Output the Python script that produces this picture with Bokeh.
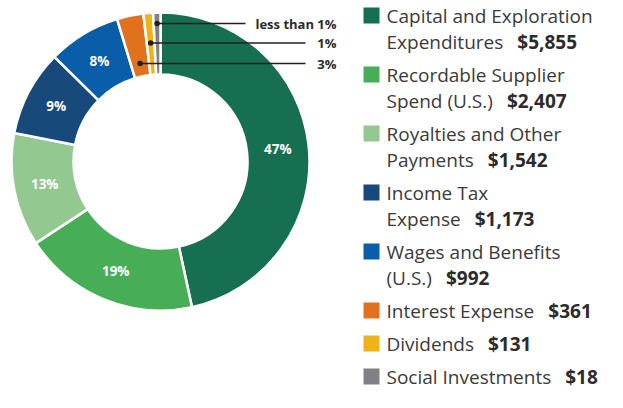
import math
import subprocess
from bokeh.plotting import figure
from bokeh.models import Range1d, ColumnDataSource
from bokeh.core.properties import value
from bokeh.embed import file_html
from bokeh.resources import INLINE

# ---------------- data ----------------
categories = ["Capital and Exploration Expenditures", "Recordable Supplier Spend (U.S.)",
              "Royalties and Other Payments", "Income Tax Expense",
              "Wages and Benefits (U.S.)", "Interest Expense", "Dividends",
              "Social Investments"]
values = [5855, 2407, 1542, 1173, 992, 361, 131, 18]
pct_labels = ["47%", "19%", "13%", "9%", "8%", "3%", "1%", "less than 1%"]
legend_line1 = ["Capital and Exploration", "Recordable Supplier", "Royalties and Other",
                "Income Tax", "Wages and Benefits", "Interest Expense", "Dividends",
                "Social Investments"]
legend_line2 = ["Expenditures", "Spend (U.S.)", "Payments", "Expense", "(U.S.)", "", "", ""]
colors = ["#176F52", "#47AE57", "#93C890", "#17497B", "#0A5DA9", "#E2711E", "#F0B317", "#818185"]

# ---------------- layout ----------------
W, H = 607, 392
FONT = "Open Sans"
CX, CY = 160, 161           # donut centre (canvas px, y downwards)
R_IN, R_OUT = 87, 149
MIN_FRAC = 0.008            # minimum visible share for tiny slices
callout_r = [100, 119, 138]   # orange, yellow, gray
callout_end = [305, 305, 245]
callout_text_x = 336
LEG_SQ_X, LEG_TX = 371, 386
LEG_Y0, LINE_H, ITEM_GAP = 15, 26, 7
LEG_FS, VAL_GAP = 19, 14

def fy(y):
    return H - y

_CW = {' ': .26, 'a': .556, 'b': .613, 'c': .476, 'd': .613, 'e': .561, 'f': .339, 'g': .548,
       'h': .614, 'i': .253, 'l': .253, 'm': .930, 'n': .614, 'o': .604, 'p': .613, 'r': .408,
       's': .477, 't': .353, 'u': .614, 'v': .500, 'x': .503, 'y': .501, 'C': .633, 'D': .729,
       'E': .569, 'I': .303, 'P': .603, 'R': .615, 'S': .539, 'T': .556, 'W': .924, '(': .296,
       ')': .296, '.': .266}

def _font_path(bold):
    try:
        r = subprocess.run(["fc-match", "-f", "%{file}", FONT + (":bold" if bold else ":regular")],
                           capture_output=True, text=True)
        return r.stdout.strip() or None
    except Exception:
        return None

def text_w(s, size, bold=False):
    try:
        from PIL import ImageFont
        f = ImageFont.truetype(_font_path(bold), size)
        return f.getlength(s)
    except Exception:
        return sum(_CW.get(c, 0.56) for c in s) * size

# ---------------- figure ----------------
p = figure(width=W, height=H, x_range=Range1d(0, W), y_range=Range1d(0, H),
           output_backend="svg", toolbar_location=None, min_border=0)
p.axis.visible = False
p.grid.visible = False
p.outline_line_color = None
p.background_fill_color = "white"

total = float(sum(values))
fr = [max(v / total, MIN_FRAC) for v in values]
s = sum(fr)
fr = [f / s for f in fr]
starts, ends, mids = [], [], []
cum = 0.0
for f in fr:
    a0 = 90 - (cum + f) * 360
    a1 = 90 - cum * 360
    starts.append(math.radians(a0))
    ends.append(math.radians(a1))
    mids.append(math.radians((a0 + a1) / 2))
    cum += f

src = ColumnDataSource(dict(start=starts, end=ends, color=colors, cat=categories, val=values))
p.annular_wedge(x=CX, y=fy(CY), inner_radius=R_IN, outer_radius=R_OUT,
                start_angle="start", end_angle="end", fill_color="color",
                line_color="white", line_width=2.5, source=src)

# inside percentage labels (first five slices)
r_mid = (R_IN + R_OUT) / 2
lx = [CX + r_mid * math.cos(m) for m in mids[:5]]
ly = [fy(CY) + r_mid * math.sin(m) for m in mids[:5]]
p.text(x=lx, y=ly, text=pct_labels[:5], text_align="center", text_baseline="middle",
       text_color="white", text_font=value(FONT), text_font_size="13.5px", text_font_style="bold")

# callouts for the three small slices
for i, idx in enumerate([5, 6, 7]):
    m = mids[idx]
    dx = CX + callout_r[i] * math.cos(m)
    dy = fy(CY) + callout_r[i] * math.sin(m)
    p.line(x=[dx, callout_end[i]], y=[dy, dy], line_color="#231F20", line_width=1.5)
    p.scatter(x=[dx], y=[dy], size=5.5, fill_color="#231F20", line_color=None)
    p.text(x=[callout_text_x], y=[dy], text=[pct_labels[idx]], text_align="right",
           text_baseline="middle", text_color="#2B2B2B", text_font=value(FONT),
           text_font_size="13px", text_font_style="bold")

# legend
y = LEG_Y0
for i in range(len(values)):
    p.rect(x=LEG_SQ_X, y=fy(y), width=16, height=16, fill_color=colors[i], line_color=None)
    p.text(x=[LEG_TX], y=[fy(y)], text=[legend_line1[i]], text_baseline="middle",
           text_color="#3A3A3A", text_font=value(FONT), text_font_size=f"{LEG_FS}px")
    vs = f"${values[i]:,}"
    if legend_line2[i]:
        y2 = y + LINE_H
        p.text(x=[LEG_TX], y=[fy(y2)], text=[legend_line2[i]], text_baseline="middle",
               text_color="#3A3A3A", text_font=value(FONT), text_font_size=f"{LEG_FS}px")
        vx = LEG_TX + text_w(legend_line2[i], LEG_FS) + VAL_GAP
        vy = y2
        y = y2 + LINE_H + ITEM_GAP
    else:
        vx = LEG_TX + text_w(legend_line1[i], LEG_FS) + VAL_GAP
        vy = y
        y = y + LINE_H + ITEM_GAP
    p.text(x=[vx], y=[fy(vy)], text=[vs], text_baseline="middle", text_color="#2B2B2B",
           text_font=value(FONT), text_font_size=f"{LEG_FS}px", text_font_style="bold")

open("out.html", "w").write(file_html(p, INLINE))
